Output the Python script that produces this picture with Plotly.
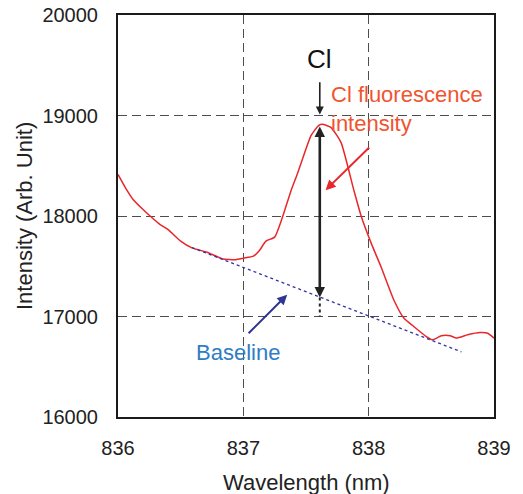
import plotly.graph_objects as go

# Spectrum data
wavelength = [836.00, 836.06, 836.12, 836.20, 836.256, 836.336, 836.40, 836.50, 836.59,
              836.71, 836.83, 836.94, 837.00, 837.08, 837.13, 837.18, 837.25, 837.31,
              837.38, 837.43, 837.47, 837.54, 837.60, 837.63, 837.70, 837.78, 837.88,
              837.94, 838.02, 838.10, 838.20, 838.28, 838.36, 838.46, 838.51, 838.58,
              838.65, 838.70, 838.79, 838.89, 838.95, 839.00]
intensity = [18414, 18280, 18165, 18065, 18000, 17915, 17865, 17750, 17683,
             17640, 17575, 17565, 17580, 17600, 17660, 17750, 17790, 17980,
             18250, 18415, 18560, 18800, 18900, 18913, 18880, 18730, 18265,
             18000, 17730, 17490, 17167, 16985, 16900, 16800, 16768, 16808,
             16808, 16785, 16818, 16840, 16833, 16785]

baseline_x = [836.59, 838.74]
baseline_y = [17686, 16648]

peak_x = 837.61
peak_top = 18905
peak_base = 17190

x_ticks = [836, 837, 838, 839]
y_ticks = [16000, 17000, 18000, 19000, 20000]

FONT = "Liberation Sans, Arial, sans-serif"

fig = go.Figure()
fig.add_trace(go.Scatter(x=wavelength, y=intensity, mode="lines",
                         line=dict(color="#E8272B", width=1.5, shape="spline", smoothing=0.5),
                         hoverinfo="skip"))
fig.add_trace(go.Scatter(x=baseline_x, y=baseline_y, mode="lines",
                         line=dict(color="#3434A8", width=1.3, dash="dot"),
                         hoverinfo="skip"))
fig.add_trace(go.Scatter(x=[peak_x, peak_x], y=[peak_base, 17000], mode="lines",
                         line=dict(color="#222222", width=2, dash="dot"),
                         hoverinfo="skip"))

annotations = [
    # Cl down arrow
    dict(x=peak_x, y=19010, ax=peak_x, ay=19345, xref="x", yref="y", axref="x", ayref="y",
         showarrow=True, arrowhead=2, arrowsize=1, arrowwidth=1.6, arrowcolor="#222222", text=""),
    # double arrow peak height
    dict(x=peak_x, y=peak_base, ax=peak_x, ay=peak_top, xref="x", yref="y", axref="x", ayref="y",
         showarrow=True, arrowhead=2, startarrowhead=2, arrowside="end+start",
         arrowsize=0.8, startarrowsize=0.8, arrowwidth=2.6, arrowcolor="#222222", text=""),
    # red arrow
    dict(x=837.656, y=18257, ax=838.016, ay=18696, xref="x", yref="y", axref="x", ayref="y",
         showarrow=True, arrowhead=2, arrowsize=1, arrowwidth=2, arrowcolor="#E8272B", text=""),
    # blue arrow
    dict(x=837.35, y=17217, ax=837.03, ay=16818, xref="x", yref="y", axref="x", ayref="y",
         showarrow=True, arrowhead=2, arrowsize=1, arrowwidth=2, arrowcolor="#2E3592", text=""),
    dict(x=peak_x, y=19560, xref="x", yref="y", text="Cl", showarrow=False,
         font=dict(family=FONT, size=26, color="#111111")),
    dict(x=837.68, y=19060, xref="x", yref="y", text="Cl fluorescence<br>intensity",
         showarrow=False, xanchor="left", align="left",
         font=dict(family=FONT, size=22, color="#EF5430")),
    dict(x=836.61, y=16640, xref="x", yref="y", text="Baseline", showarrow=False,
         xanchor="left", font=dict(family=FONT, size=22, color="#2F7DC4")),
    # axis titles
    dict(x=0.5, y=0, xref="paper", yref="paper", text="Wavelength (nm)", showarrow=False,
         yanchor="middle", yshift=-65, font=dict(family=FONT, size=22, color="#222222")),
    dict(x=0, y=0.5, xref="paper", yref="paper", text="Intensity (Arb. Unit)", showarrow=False,
         textangle=-90, xanchor="center", xshift=-94, font=dict(family=FONT, size=22, color="#222222")),
]

axis_common = dict(showline=True, mirror=True, linecolor="#1a1a1a", linewidth=2,
                   showgrid=True, gridcolor="#4d4d4d", gridwidth=1.3, griddash="9px,5px",
                   zeroline=False, ticks="", automargin=False,
                   tickfont=dict(family=FONT, size=20, color="#222222"))

fig.update_layout(
    width=523, height=494,
    margin=dict(l=118, r=29, t=15, b=77),
    paper_bgcolor="white", plot_bgcolor="white",
    showlegend=False,
    xaxis=dict(range=[836, 839], tickvals=x_ticks, ticktext=[str(v) for v in x_ticks],
               ticklabelstandoff=12, **axis_common),
    yaxis=dict(range=[16000, 20000], tickvals=y_ticks, ticktext=[str(v) for v in y_ticks],
               ticklabelstandoff=14, **axis_common),
    annotations=annotations,
)

fig.write_html("out.html", config={"displayModeBar": False},
               post_script="document.body.style.margin='0';")
